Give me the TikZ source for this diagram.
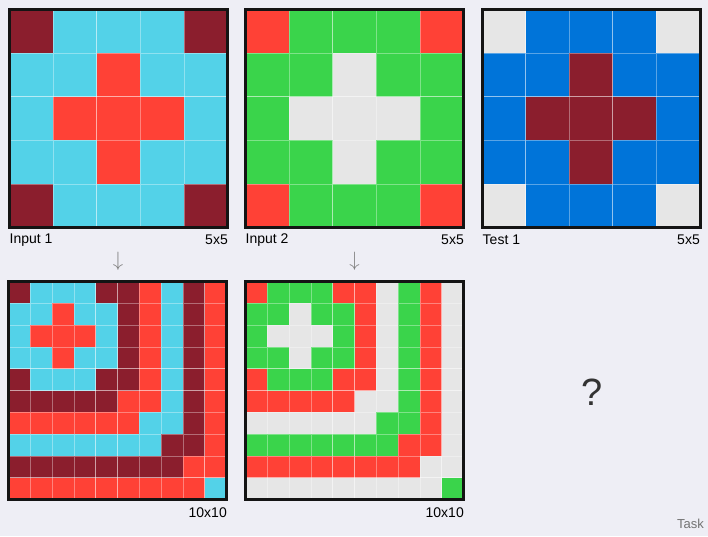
\documentclass[tikz,border=0pt]{standalone}
\usepackage{fontspec}
\setmainfont{Liberation Sans}
\usepackage{amsmath,amssymb}
\usepackage{tikz}

\definecolor{bgc}{HTML}{EEEEF5}
\definecolor{cM}{HTML}{8B1E2D}
\definecolor{cC}{HTML}{53D2E8}
\definecolor{cR}{HTML}{FF4136}
\definecolor{cG}{HTML}{3AD44B}
\definecolor{cW}{HTML}{E6E6E6}
\definecolor{cB}{HTML}{0074D9}

\tikzset{
  lbl/.style={inner sep=0pt, font=\fontsize{14}{16}\selectfont},
  arrowlbl/.style={inner sep=0pt, text=black!50, font=\fontsize{21}{22}\selectfont},
  gridframe/.style={line width=3, draw=black!92},
  cellline/.style={draw=white, draw opacity=0.35, line width=0.7}
}

% x0, y0, n, rows
\newcommand{\arcgrid}[4]{%
  \foreach \row [count=\j from 0] in {#4} {
    \foreach \c [count=\i from 0] in \row {
      \filldraw[fill=\c, cellline] ({#1+\i*218/#3},{#2+\j*218/#3}) rectangle ++({218/#3},{218/#3});
    }
  }
  \draw[gridframe] (#1,#2) rectangle ++(218,218);
}

\begin{document}
\begin{tikzpicture}[x=1pt, y=-1pt]
    \fill[bgc] (0,0) rectangle (708,536);
    \useasboundingbox (0,0) rectangle (708,536);

    \arcgrid{9.5}{9.5}{5}{{cM,cC,cC,cC,cM},{cC,cC,cR,cC,cC},{cC,cR,cR,cR,cC},{cC,cC,cR,cC,cC},{cM,cC,cC,cC,cM}}
    \arcgrid{245.5}{9.5}{5}{{cR,cG,cG,cG,cR},{cG,cG,cW,cG,cG},{cG,cW,cW,cW,cG},{cG,cG,cW,cG,cG},{cR,cG,cG,cG,cR}}
    \arcgrid{482}{9.5}{5}{{cW,cB,cB,cB,cW},{cB,cB,cM,cB,cB},{cB,cM,cM,cM,cB},{cB,cB,cM,cB,cB},{cW,cB,cB,cB,cW}}

    \arcgrid{8.5}{281.5}{10}{{cM,cC,cC,cC,cM,cM,cR,cC,cM,cR},{cC,cC,cR,cC,cC,cM,cR,cC,cM,cR},{cC,cR,cR,cR,cC,cM,cR,cC,cM,cR},{cC,cC,cR,cC,cC,cM,cR,cC,cM,cR},{cM,cC,cC,cC,cM,cM,cR,cC,cM,cR},{cM,cM,cM,cM,cM,cR,cR,cC,cM,cR},{cR,cR,cR,cR,cR,cR,cC,cC,cM,cR},{cC,cC,cC,cC,cC,cC,cC,cM,cM,cR},{cM,cM,cM,cM,cM,cM,cM,cM,cR,cR},{cR,cR,cR,cR,cR,cR,cR,cR,cR,cC}}
    \arcgrid{245.5}{281.5}{10}{{cR,cG,cG,cG,cR,cR,cW,cG,cR,cW},{cG,cG,cW,cG,cG,cR,cW,cG,cR,cW},{cG,cW,cW,cW,cG,cR,cW,cG,cR,cW},{cG,cG,cW,cG,cG,cR,cW,cG,cR,cW},{cR,cG,cG,cG,cR,cR,cW,cG,cR,cW},{cR,cR,cR,cR,cR,cW,cW,cG,cR,cW},{cW,cW,cW,cW,cW,cW,cG,cG,cR,cW},{cG,cG,cG,cG,cG,cG,cG,cR,cR,cW},{cR,cR,cR,cR,cR,cR,cR,cR,cW,cW},{cW,cW,cW,cW,cW,cW,cW,cW,cW,cG}}

    \node[lbl, anchor=west] (in1name) at (9.5,240) {Input 1};
    \node[lbl, anchor=east] (in1size) at (228,240) {5x5};
    \node[lbl, anchor=west] (in2name) at (245.5,240) {Input 2};
    \node[lbl, anchor=east] (in2size) at (464,240) {5x5};
    \node[lbl, anchor=west] (testname) at (482.5,240) {Test 1};
    \node[lbl, anchor=east] (testsize) at (700,240) {5x5};

    \node[arrowlbl] (in1arrow) at (118,261) {$\downarrow$};
    \node[arrowlbl] (in2arrow) at (354.5,261) {$\downarrow$};

    \node[lbl, anchor=east] (out1size) at (227,513) {10x10};
    \node[lbl, anchor=east] (out2size) at (464,513) {10x10};

    \node[inner sep=0pt, text=black!80, font=\fontsize{38}{40}\selectfont] (query) at (592,392) {?};
    \node[inner sep=0pt, anchor=east, text=black!55, font=\fontsize{13}{14}\selectfont] (tasklbl) at (704,524) {Task};
\end{tikzpicture}
\end{document}
